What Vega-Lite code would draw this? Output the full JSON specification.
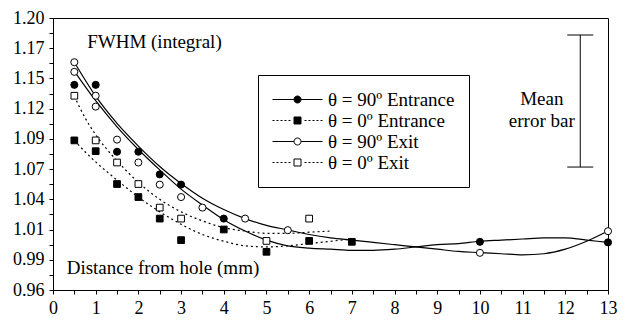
{
  "$schema": "https://vega.github.io/schema/vega-lite/v6.json",
  "autosize": {"type": "none"},
  "width": 555,
  "height": 272,
  "padding": {"left": 53, "top": 18, "right": 15, "bottom": 30},
  "background": "white",
  "config": {
    "font": "Liberation Serif",
    "view": {"stroke": "black", "strokeWidth": 1},
    "axis": {
      "grid": false,
      "domainColor": "black",
      "tickColor": "black",
      "tickSize": 4,
      "labelColor": "black",
      "labelFont": "Liberation Serif",
      "labelFontSize": 18,
      "title": null
    },
    "legend": {
      "title": null,
      "orient": "none",
      "legendX": 205,
      "legendY": 57,
      "padding": 14,
      "strokeColor": "black",
      "fillColor": "white",
      "symbolSize": 400,
      "symbolOffset": 15,
      "labelOffset": 20,
      "rowPadding": 0,
      "labelFont": "Liberation Serif",
      "labelFontSize": 19,
      "labelColor": "black",
      "labelLimit": 0,
      "symbolStrokeWidth": 1,
      "symbolOpacity": 1
    }
  },
  "datasets": {
    "points": [
      {"series": "θ = 90º Entrance", "x": 0.5, "y": 1.141},
      {"series": "θ = 90º Entrance", "x": 1, "y": 1.141},
      {"series": "θ = 90º Entrance", "x": 1.5, "y": 1.082},
      {"series": "θ = 90º Entrance", "x": 2, "y": 1.082},
      {"series": "θ = 90º Entrance", "x": 2.5, "y": 1.062},
      {"series": "θ = 90º Entrance", "x": 3, "y": 1.053},
      {"series": "θ = 90º Entrance", "x": 4, "y": 1.023},
      {"series": "θ = 90º Entrance", "x": 10, "y": 1.0025},
      {"series": "θ = 90º Entrance", "x": 13, "y": 1.002},
      {"series": "θ = 0º Entrance", "x": 0.5, "y": 1.092},
      {"series": "θ = 0º Entrance", "x": 1, "y": 1.0825},
      {"series": "θ = 0º Entrance", "x": 1.5, "y": 1.0535},
      {"series": "θ = 0º Entrance", "x": 2, "y": 1.042},
      {"series": "θ = 0º Entrance", "x": 2.5, "y": 1.023},
      {"series": "θ = 0º Entrance", "x": 3, "y": 1.004},
      {"series": "θ = 0º Entrance", "x": 4, "y": 1.0134},
      {"series": "θ = 0º Entrance", "x": 5, "y": 0.9937},
      {"series": "θ = 0º Entrance", "x": 6, "y": 1.0033},
      {"series": "θ = 0º Entrance", "x": 7, "y": 1.0025},
      {"series": "θ = 90º Exit", "x": 0.5, "y": 1.161},
      {"series": "θ = 90º Exit", "x": 0.5, "y": 1.1525},
      {"series": "θ = 90º Exit", "x": 1, "y": 1.1314},
      {"series": "θ = 90º Exit", "x": 1, "y": 1.1218},
      {"series": "θ = 90º Exit", "x": 1.5, "y": 1.0927},
      {"series": "θ = 90º Exit", "x": 2, "y": 1.0725},
      {"series": "θ = 90º Exit", "x": 2.5, "y": 1.053},
      {"series": "θ = 90º Exit", "x": 3, "y": 1.042},
      {"series": "θ = 90º Exit", "x": 3.5, "y": 1.0327},
      {"series": "θ = 90º Exit", "x": 4.5, "y": 1.023},
      {"series": "θ = 90º Exit", "x": 5.5, "y": 1.0128},
      {"series": "θ = 90º Exit", "x": 10, "y": 0.9928},
      {"series": "θ = 90º Exit", "x": 13, "y": 1.0119},
      {"series": "θ = 0º Exit", "x": 0.5, "y": 1.1314},
      {"series": "θ = 0º Exit", "x": 1, "y": 1.092},
      {"series": "θ = 0º Exit", "x": 1.5, "y": 1.0725},
      {"series": "θ = 0º Exit", "x": 2, "y": 1.0535},
      {"series": "θ = 0º Exit", "x": 2.5, "y": 1.0327},
      {"series": "θ = 0º Exit", "x": 3, "y": 1.023},
      {"series": "θ = 0º Exit", "x": 5, "y": 1.0033},
      {"series": "θ = 0º Exit", "x": 6, "y": 1.023}
    ],
    "solidCurves": [
      {"series": "θ = 90º Entrance", "x": 0.5, "y": 1.153},
      {"series": "θ = 90º Entrance", "x": 1, "y": 1.127},
      {"series": "θ = 90º Entrance", "x": 1.5, "y": 1.104},
      {"series": "θ = 90º Entrance", "x": 2, "y": 1.084},
      {"series": "θ = 90º Entrance", "x": 2.5, "y": 1.066},
      {"series": "θ = 90º Entrance", "x": 3, "y": 1.049},
      {"series": "θ = 90º Entrance", "x": 3.5, "y": 1.035},
      {"series": "θ = 90º Entrance", "x": 4, "y": 1.022},
      {"series": "θ = 90º Entrance", "x": 4.5, "y": 1.012},
      {"series": "θ = 90º Entrance", "x": 5, "y": 1.004},
      {"series": "θ = 90º Entrance", "x": 5.5, "y": 0.999},
      {"series": "θ = 90º Entrance", "x": 6, "y": 0.997},
      {"series": "θ = 90º Entrance", "x": 6.5, "y": 0.996},
      {"series": "θ = 90º Entrance", "x": 7, "y": 0.995},
      {"series": "θ = 90º Entrance", "x": 7.5, "y": 0.995},
      {"series": "θ = 90º Entrance", "x": 8, "y": 0.996},
      {"series": "θ = 90º Entrance", "x": 8.5, "y": 0.998},
      {"series": "θ = 90º Entrance", "x": 9, "y": 1.0},
      {"series": "θ = 90º Entrance", "x": 9.5, "y": 1.001},
      {"series": "θ = 90º Entrance", "x": 10, "y": 1.003},
      {"series": "θ = 90º Entrance", "x": 10.5, "y": 1.004},
      {"series": "θ = 90º Entrance", "x": 11, "y": 1.005},
      {"series": "θ = 90º Entrance", "x": 11.5, "y": 1.006},
      {"series": "θ = 90º Entrance", "x": 12, "y": 1.006},
      {"series": "θ = 90º Entrance", "x": 12.5, "y": 1.004},
      {"series": "θ = 90º Entrance", "x": 13, "y": 1.002},
      {"series": "θ = 90º Exit", "x": 0.5, "y": 1.161},
      {"series": "θ = 90º Exit", "x": 1, "y": 1.131},
      {"series": "θ = 90º Exit", "x": 1.5, "y": 1.107},
      {"series": "θ = 90º Exit", "x": 2, "y": 1.087},
      {"series": "θ = 90º Exit", "x": 2.5, "y": 1.069},
      {"series": "θ = 90º Exit", "x": 3, "y": 1.054},
      {"series": "θ = 90º Exit", "x": 3.5, "y": 1.041},
      {"series": "θ = 90º Exit", "x": 4, "y": 1.031},
      {"series": "θ = 90º Exit", "x": 4.5, "y": 1.023},
      {"series": "θ = 90º Exit", "x": 5, "y": 1.017},
      {"series": "θ = 90º Exit", "x": 5.5, "y": 1.013},
      {"series": "θ = 90º Exit", "x": 6, "y": 1.009},
      {"series": "θ = 90º Exit", "x": 6.5, "y": 1.006},
      {"series": "θ = 90º Exit", "x": 7, "y": 1.004},
      {"series": "θ = 90º Exit", "x": 7.5, "y": 1.002},
      {"series": "θ = 90º Exit", "x": 8, "y": 1.0},
      {"series": "θ = 90º Exit", "x": 8.5, "y": 0.998},
      {"series": "θ = 90º Exit", "x": 9, "y": 0.996},
      {"series": "θ = 90º Exit", "x": 9.5, "y": 0.994},
      {"series": "θ = 90º Exit", "x": 10, "y": 0.993},
      {"series": "θ = 90º Exit", "x": 10.5, "y": 0.992},
      {"series": "θ = 90º Exit", "x": 11, "y": 0.991},
      {"series": "θ = 90º Exit", "x": 11.5, "y": 0.992},
      {"series": "θ = 90º Exit", "x": 12, "y": 0.996},
      {"series": "θ = 90º Exit", "x": 12.5, "y": 1.003},
      {"series": "θ = 90º Exit", "x": 13, "y": 1.012}
    ],
    "dottedCurves": [
      {"series": "θ = 0º Entrance", "x": 0.5, "y": 1.092},
      {"series": "θ = 0º Entrance", "x": 0.75, "y": 1.082},
      {"series": "θ = 0º Entrance", "x": 1, "y": 1.073},
      {"series": "θ = 0º Entrance", "x": 1.5, "y": 1.057},
      {"series": "θ = 0º Entrance", "x": 2, "y": 1.042},
      {"series": "θ = 0º Entrance", "x": 2.5, "y": 1.029},
      {"series": "θ = 0º Entrance", "x": 3, "y": 1.018},
      {"series": "θ = 0º Entrance", "x": 3.5, "y": 1.009},
      {"series": "θ = 0º Entrance", "x": 4, "y": 1.003},
      {"series": "θ = 0º Entrance", "x": 4.5, "y": 0.999},
      {"series": "θ = 0º Entrance", "x": 5, "y": 0.998},
      {"series": "θ = 0º Entrance", "x": 5.5, "y": 0.999},
      {"series": "θ = 0º Entrance", "x": 6, "y": 1.001},
      {"series": "θ = 0º Entrance", "x": 6.5, "y": 1.003},
      {"series": "θ = 0º Entrance", "x": 7, "y": 1.005},
      {"series": "θ = 0º Exit", "x": 0.5, "y": 1.131},
      {"series": "θ = 0º Exit", "x": 0.75, "y": 1.112},
      {"series": "θ = 0º Exit", "x": 1, "y": 1.097},
      {"series": "θ = 0º Exit", "x": 1.5, "y": 1.074},
      {"series": "θ = 0º Exit", "x": 2, "y": 1.055},
      {"series": "θ = 0º Exit", "x": 2.5, "y": 1.04},
      {"series": "θ = 0º Exit", "x": 3, "y": 1.029},
      {"series": "θ = 0º Exit", "x": 3.5, "y": 1.021},
      {"series": "θ = 0º Exit", "x": 4, "y": 1.015},
      {"series": "θ = 0º Exit", "x": 4.5, "y": 1.012},
      {"series": "θ = 0º Exit", "x": 5, "y": 1.01},
      {"series": "θ = 0º Exit", "x": 5.5, "y": 1.01},
      {"series": "θ = 0º Exit", "x": 6, "y": 1.011},
      {"series": "θ = 0º Exit", "x": 6.5, "y": 1.012}
    ],
    "errorbar": [
      {"x": 12.35, "y": 1.185, "y2": 1.0685}
    ],
    "caps": [
      {"x": 12.35, "y": 1.185},
      {"x": 12.35, "y": 1.0685}
    ],
    "leftText": [
      {"label": "FWHM (integral)", "x": 0.8, "y": 1.179},
      {"label": "Distance from hole (mm)", "x": 0.32, "y": 0.979}
    ],
    "centerText": [
      {"label": "Mean", "x": 11.45, "y": 1.1285},
      {"label": "error bar", "x": 11.45, "y": 1.109}
    ]
  },
  "encoding": {
    "x": {
      "field": "x",
      "type": "quantitative",
      "scale": {"domain": [0, 13], "nice": false, "zero": false},
      "axis": {
        "values": [0, 0.5, 1, 1.5, 2, 2.5, 3, 3.5, 4, 4.5, 5, 5.5, 6, 6.5, 7, 7.5, 8, 8.5, 9, 9.5, 10, 10.5, 11, 11.5, 12, 12.5, 13],
        "labelExpr": "datum.value % 1 === 0 ? format(datum.value, 'd') : ''",
        "labelPadding": 5,
        "labelFlush": false,
        "labelOverlap": false
      }
    },
    "y": {
      "field": "y",
      "type": "quantitative",
      "scale": {"domain": [0.96, 1.2], "nice": false, "zero": false},
      "axis": {
        "values": [0.96, 0.973333, 0.986667, 1.0, 1.013333, 1.026667, 1.04, 1.053333, 1.066667, 1.08, 1.093333, 1.106667, 1.12, 1.133333, 1.146667, 1.16, 1.173333, 1.186667, 1.2],
        "labelExpr": "round((datum.value - 0.96) / 0.0133333) % 2 === 0 ? format(datum.value, '.2f') : ''",
        "labelPadding": 5,
        "labelFlush": false,
        "labelOverlap": false
      }
    }
  },
  "layer": [
    {
      "data": {"name": "solidCurves"},
      "mark": {"type": "line", "strokeWidth": 1.2, "interpolate": "monotone"},
      "encoding": {
        "stroke": {
          "field": "series",
          "type": "nominal",
          "scale": {
            "domain": ["θ = 90º Entrance", "θ = 0º Entrance", "θ = 90º Exit", "θ = 0º Exit"],
            "range": ["black", "black", "black", "black"]
          },
          "legend": {
            "symbolType": {"expr": "indexof(datum.value, '90') >= 0 ? 'M-2.5,0H-0.35M0.35,0H2.5M-0.35,0A0.35,0.35,0,1,1,0.35,0A0.35,0.35,0,1,1,-0.35,0Z' : 'M-2.5,0H-2.3M-2.1,0H-1.9M-1.7,0H-1.5M-1.3,0H-1.1M-0.9,0H-0.7M0.7,0H0.9M1.1,0H1.3M1.5,0H1.7M1.9,0H2.1M2.3,0H2.5M-0.35,-0.35H0.35V0.35H-0.35Z'"},
            "symbolFillColor": {"expr": "indexof(datum.value, 'Entrance') >= 0 ? 'black' : 'white'"}
          }
        }
      }
    },
    {
      "data": {"name": "dottedCurves"},
      "mark": {"type": "line", "color": "black", "strokeWidth": 1.2, "strokeDash": [2, 3], "interpolate": "monotone"},
      "encoding": {
        "detail": {"field": "series", "type": "nominal"}
      }
    },
    {
      "data": {"name": "points"},
      "transform": [{"filter": {"field": "series", "equal": "θ = 90º Entrance"}}],
      "mark": {"type": "point", "shape": "circle", "filled": true, "fill": "black", "stroke": "black", "strokeWidth": 1, "opacity": 1, "size": 50}
    },
    {
      "data": {"name": "points"},
      "transform": [{"filter": {"field": "series", "equal": "θ = 0º Entrance"}}],
      "mark": {"type": "point", "shape": "square", "filled": true, "fill": "black", "stroke": "black", "strokeWidth": 1, "opacity": 1, "size": 45}
    },
    {
      "data": {"name": "points"},
      "transform": [{"filter": {"field": "series", "equal": "θ = 90º Exit"}}],
      "mark": {"type": "point", "shape": "circle", "filled": true, "fill": "white", "stroke": "black", "strokeWidth": 1, "opacity": 1, "size": 50}
    },
    {
      "data": {"name": "points"},
      "transform": [{"filter": {"field": "series", "equal": "θ = 0º Exit"}}],
      "mark": {"type": "point", "shape": "square", "filled": true, "fill": "white", "stroke": "black", "strokeWidth": 1, "opacity": 1, "size": 45}
    },
    {
      "data": {"name": "errorbar"},
      "mark": {"type": "rule", "color": "black", "strokeWidth": 1},
      "encoding": {
        "y2": {"field": "y2"}
      }
    },
    {
      "data": {"name": "caps"},
      "mark": {"type": "tick", "orient": "horizontal", "size": 26, "thickness": 1, "color": "black", "opacity": 1},
      "encoding": {}
    },
    {
      "data": {"name": "leftText"},
      "mark": {"type": "text", "align": "left", "baseline": "middle", "fontSize": 19, "color": "black"},
      "encoding": {"text": {"field": "label"}}
    },
    {
      "data": {"name": "centerText"},
      "mark": {"type": "text", "align": "center", "baseline": "middle", "fontSize": 19, "color": "black"},
      "encoding": {"text": {"field": "label"}}
    }
  ]
}
